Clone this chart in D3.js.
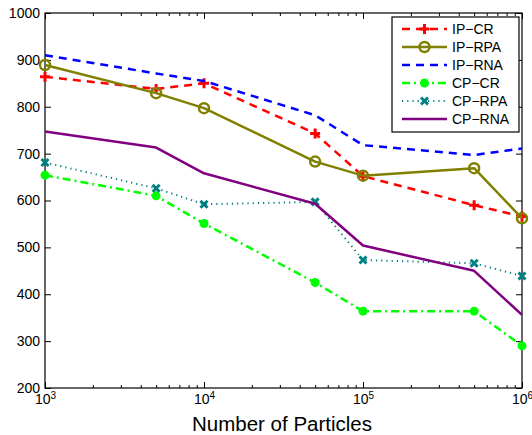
<!DOCTYPE html>
<html>
<head>
<meta charset="utf-8">
<script src="https://cdn.jsdelivr.net/npm/d3@7"></script>
<style>
  html, body { margin: 0; padding: 0; background: #fff; }
  svg { display: block; font-family: "Liberation Sans", Arial, Helvetica, sans-serif; }
</style>
</head>
<body>
<svg id="chart" width="532" height="435"></svg>
<script>
// Particle counts (x positions, log scale)
const particles = [1e3, 5e3, 1e4, 5e4, 1e5, 5e5, 1e6];

// Series values
const ipCR  = [864, 838, 850, 743, 652, 590, 566];
const ipRPA = [889, 829, 797, 683, 653, 669, 562];
const ipRNA = [910, 871, 855, 782, 718, 697, 711];
const cpCR  = [654, 610, 551, 425, 364, 364, 290];
const cpRPA = [681, 626, 592, 597, 473, 466, 439];
const cpRNA = [747, 713, 658, 593, 504, 450, 356];

const seriesNames = ["IP\u2212CR", "IP\u2212RPA", "IP\u2212RNA", "CP\u2212CR", "CP\u2212RPA", "CP\u2212RNA"];

// Tick values
const xMajorTicks = [1e3, 1e4, 1e5, 1e6];
const xTickExponents = ["3", "4", "5", "6"];
const yTicks = [200, 300, 400, 500, 600, 700, 800, 900, 1000];
const xLabel = "Number of Particles";

// Line / marker styles for each series
const styles = [
  { color: "#ff0000", dash: "8,6",        width: 2.5, marker: "plus" },
  { color: "#808000", dash: null,         width: 2.5, marker: "circle" },
  { color: "#0000ff", dash: "8,6",        width: 2.5, marker: null },
  { color: "#00ff00", dash: "8,4,2,4",    width: 2.5, marker: "dot" },
  { color: "#008080", dash: "1.2,4",      width: 2,   marker: "cross" },
  { color: "#800080", dash: null,         width: 2.5, marker: null }
];

const data = [ipCR, ipRPA, ipRNA, cpCR, cpRPA, cpRNA];

const svg = d3.select("#chart");
const plotLeft = 45, plotRight = 522, plotTop = 13, plotBottom = 388;

const x = d3.scaleLog().domain([1e3, 1e6]).range([plotLeft, plotRight]);
const y = d3.scaleLinear().domain([200, 1000]).range([plotBottom, plotTop]);

// minor log ticks
const xMinorTicks = [];
for (let d = 1e3; d < 1e6; d *= 10) for (let k = 2; k <= 9; k++) xMinorTicks.push(d * k);

const axisStyle = g => {
  g.select(".domain").remove();
  g.selectAll(".tick line").attr("stroke", "#000").attr("stroke-width", 1);
};

// bottom axis: major + labels
const gx = svg.append("g").attr("transform", `translate(0,${plotBottom})`)
  .call(d3.axisBottom(x).tickValues(xMajorTicks).tickSizeInner(-6).tickSizeOuter(0).tickPadding(6).tickFormat(() => ""))
  .call(axisStyle);
gx.selectAll(".tick text").each(function(d, i) {
  const t = d3.select(this).attr("font-size", 14).attr("fill", "#000").attr("font-family", null);
  t.append("tspan").text("10");
  t.append("tspan").attr("dy", "-0.45em").attr("font-size", 10).text(xTickExponents[i]);
});
svg.append("g").attr("transform", `translate(0,${plotBottom})`)
  .call(d3.axisBottom(x).tickValues(xMinorTicks).tickSizeInner(-3).tickSizeOuter(0).tickFormat(() => ""))
  .call(axisStyle);

// top axis ticks
svg.append("g").attr("transform", `translate(0,${plotTop})`)
  .call(d3.axisTop(x).tickValues(xMajorTicks).tickSizeInner(-6).tickSizeOuter(0).tickFormat(() => ""))
  .call(axisStyle);
svg.append("g").attr("transform", `translate(0,${plotTop})`)
  .call(d3.axisTop(x).tickValues(xMinorTicks).tickSizeInner(-3).tickSizeOuter(0).tickFormat(() => ""))
  .call(axisStyle);

// left axis
svg.append("g").attr("transform", `translate(${plotLeft},0)`)
  .call(d3.axisLeft(y).tickValues(yTicks).tickSizeInner(-6).tickSizeOuter(0).tickPadding(5).tickFormat(d3.format("d")))
  .call(axisStyle)
  .call(g => g.selectAll(".tick text").attr("font-size", 14).attr("fill", "#000").attr("font-family", null));

// right axis ticks
svg.append("g").attr("transform", `translate(${plotRight},0)`)
  .call(d3.axisRight(y).tickValues(yTicks).tickSizeInner(-6).tickSizeOuter(0).tickFormat(() => ""))
  .call(axisStyle);

// frame
svg.append("rect").attr("x", plotLeft).attr("y", plotTop).attr("width", plotRight - plotLeft).attr("height", plotBottom - plotTop)
  .attr("fill", "none").attr("stroke", "#000").attr("stroke-width", 1.2);

// x axis label
svg.append("text").attr("x", 282).attr("y", 431).attr("text-anchor", "middle")
  .attr("font-size", 20.5).attr("fill", "#000").text(xLabel);

function drawMarker(g, type, cx, cy, color) {
  if (type === "plus") {
    g.append("path").attr("d", `M${cx - 5},${cy}H${cx + 5}M${cx},${cy - 5}V${cy + 5}`)
      .attr("stroke", color).attr("stroke-width", 3).attr("fill", "none");
  } else if (type === "circle") {
    g.append("circle").attr("cx", cx).attr("cy", cy).attr("r", 5)
      .attr("stroke", color).attr("stroke-width", 2.5).attr("fill", "none");
  } else if (type === "dot") {
    g.append("circle").attr("cx", cx).attr("cy", cy).attr("r", 4.5).attr("fill", color);
  } else if (type === "cross") {
    g.append("path").attr("d", `M${cx - 3.5},${cy - 3.5}L${cx + 3.5},${cy + 3.5}M${cx - 3.5},${cy + 3.5}L${cx + 3.5},${cy - 3.5}`)
      .attr("stroke", color).attr("stroke-width", 3).attr("fill", "none");
  }
}

const line = d3.line().x(d => x(d[0])).y(d => y(d[1]));

data.forEach((vals, i) => {
  const s = styles[i];
  const pts = particles.map((p, j) => [p, vals[j]]);
  const g = svg.append("g");
  g.append("path").attr("d", line(pts)).attr("fill", "none")
    .attr("stroke", s.color).attr("stroke-width", s.width)
    .attr("stroke-dasharray", s.dash).attr("stroke-linejoin", "round");
  if (s.marker) pts.forEach(p => drawMarker(g, s.marker, x(p[0]), y(p[1]), s.color));
});

// legend
const lg = svg.append("g");
lg.append("rect").attr("x", 392).attr("y", 17).attr("width", 127).attr("height", 115)
  .attr("fill", "#fff").attr("stroke", "#000").attr("stroke-width", 1.2);
seriesNames.forEach((name, i) => {
  const s = styles[i];
  const ry = 29 + i * 18;
  lg.append("line").attr("x1", 402).attr("x2", 447).attr("y1", ry).attr("y2", ry)
    .attr("stroke", s.color).attr("stroke-width", s.width).attr("stroke-dasharray", s.dash);
  if (s.marker) drawMarker(lg, s.marker, 424.5, ry, s.color);
  lg.append("text").attr("x", 452).attr("y", ry + 5).attr("font-size", 14).attr("fill", "#000").text(name);
});
</script>
</body>
</html>
